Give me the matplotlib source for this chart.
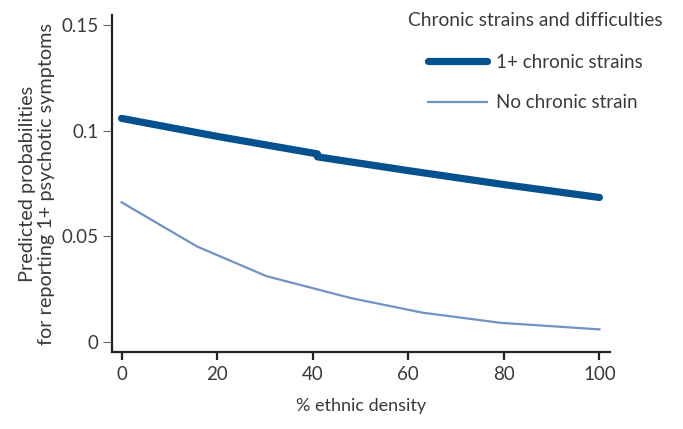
import matplotlib
matplotlib.use('Agg')
import matplotlib.pyplot as plt

# predicted probabilities
density_strain = [0, 20, 41, 41, 60, 80, 100]
prob_strain = [0.1058, 0.0973, 0.0890, 0.0876, 0.0811, 0.0745, 0.0684]
density_none = [0, 15.8, 30.3, 48, 63, 79.3, 100]
prob_none = [0.0661, 0.0452, 0.0312, 0.0208, 0.0139, 0.0091, 0.0060]

xticks = [0, 20, 40, 60, 80, 100]
yticks = [0, 0.05, 0.1, 0.15]
ytick_labels = ['0', '0.05', '0.1', '0.15']

plt.rcParams['font.family'] = ['Lato', 'DejaVu Sans']
text_col = '#3a3a3a'

fig = plt.figure(figsize=(6.83, 4.29), dpi=100)
ax = fig.add_axes([0.164, 0.1795, 0.729, 0.7855])

ax.plot(density_strain, prob_strain, color='#03518e', lw=5.2,
        solid_capstyle='round', solid_joinstyle='round', label='1+ chronic strains')
ax.plot(density_none, prob_none, color='#6f93c4', lw=1.6, label='No chronic strain')

ax.set_xlim(-2.0, 102.2)
ax.set_ylim(-0.0047, 0.1547)
ax.set_xticks(xticks)
ax.set_yticks(yticks)
ax.set_yticklabels(ytick_labels)

for s in ['top', 'right']:
    ax.spines[s].set_visible(False)
for s in ['left', 'bottom']:
    ax.spines[s].set_color('#222222')
    ax.spines[s].set_linewidth(1.6)

ax.tick_params(axis='x', direction='out', length=6, width=1.6, color='#222222',
               labelsize=13.5, labelcolor=text_col, pad=4)
ax.tick_params(axis='y', direction='out', length=6.5, width=0.8, color='#666666',
               labelsize=13.5, labelcolor=text_col, pad=3)

ax.set_xlabel('% ethnic density', fontsize=13, color=text_col, labelpad=11)
ax.set_ylabel('Predicted probabilities\nfor reporting 1+ psychotic symptoms',
              fontsize=14.3, color=text_col, labelpad=4.5, linespacing=1.2)

leg = ax.legend(title='Chronic strains and difficulties', loc='upper right',
                bbox_to_anchor=(0.995, 1.012), bbox_transform=fig.transFigure,
                frameon=False, fontsize=13.5, title_fontsize=13.8,
                handlelength=3.15, handletextpad=0.45, labelspacing=1.25)
leg.get_title().set_color(text_col)
for t in leg.get_texts():
    t.set_color(text_col)
leg._legend_box.sep = 18

fig.savefig('out.png', dpi=100)
